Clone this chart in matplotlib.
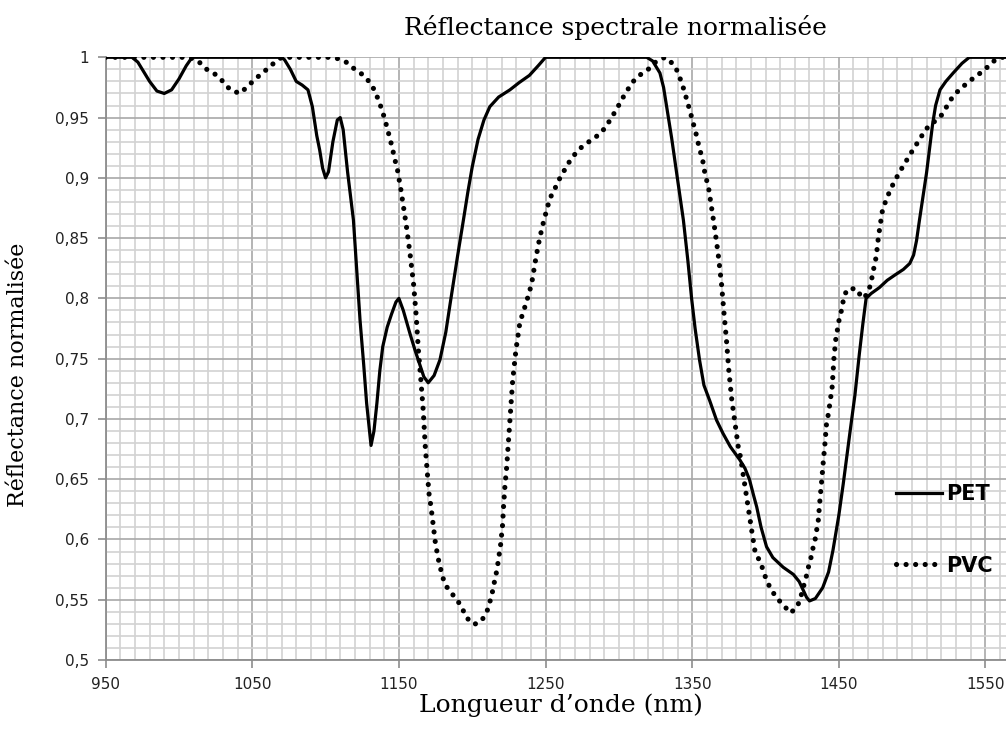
import numpy as np
import matplotlib
matplotlib.use("Agg")
import matplotlib.pyplot as plt
from matplotlib.ticker import MultipleLocator, FuncFormatter
from matplotlib.lines import Line2D

# Longueurs d'onde (nm) et réflectance
pet_x = [950, 968, 972, 975, 980, 985, 990, 995, 1000, 1005, 1009,
         1070, 1072, 1074, 1076, 1080, 1084, 1088, 1091, 1094, 1096, 1098, 1100,
         1102, 1105, 1108, 1110, 1112, 1115, 1119, 1123.5, 1126, 1128, 1131,
         1133, 1135, 1137, 1139, 1142, 1145, 1148, 1150, 1153, 1157.5, 1161,
         1164, 1167, 1170, 1174, 1178, 1182, 1185, 1190, 1194, 1197, 1200,
         1204, 1208, 1212, 1218, 1225.7, 1232, 1239, 1245, 1250,
         1319, 1323, 1328, 1330.5, 1332.6, 1336, 1339.4, 1344, 1347, 1349.6,
         1352, 1355, 1358, 1362, 1366.6, 1371, 1376, 1382.5, 1386, 1389, 1392,
         1394, 1397, 1400.7, 1405, 1412, 1419, 1423, 1425.7, 1428, 1430, 1434,
         1439, 1443, 1446, 1450, 1453, 1457.5, 1461, 1464, 1466.5, 1468.6,
         1472, 1477.7, 1483, 1489, 1494, 1498.4, 1501, 1503, 1505, 1509.8,
         1514, 1516, 1519, 1523, 1528, 1534, 1539, 1564]
pet_y = [1.0, 1.0, 0.996, 0.99, 0.98, 0.972, 0.97, 0.973, 0.982, 0.993, 1.0,
         1.0, 0.998, 0.994, 0.99, 0.98, 0.977, 0.973, 0.959, 0.935, 0.923, 0.908, 0.90,
         0.905, 0.93, 0.948, 0.95, 0.94, 0.905, 0.865, 0.782, 0.745, 0.713, 0.678,
         0.69, 0.713, 0.74, 0.76, 0.776, 0.787, 0.797, 0.80, 0.79, 0.771, 0.757,
         0.746, 0.735, 0.73, 0.736, 0.749, 0.772, 0.796, 0.835, 0.865, 0.888, 0.909,
         0.932, 0.948, 0.959, 0.967, 0.973, 0.979, 0.985, 0.993, 1.0,
         1.0, 0.997, 0.987, 0.975, 0.959, 0.933, 0.904, 0.865, 0.832, 0.80,
         0.775, 0.749, 0.728, 0.715, 0.699, 0.688, 0.677, 0.666, 0.659, 0.65, 0.636,
         0.627, 0.61, 0.594, 0.585, 0.577, 0.571, 0.565, 0.558, 0.552, 0.549, 0.551,
         0.56, 0.573, 0.591, 0.62, 0.646, 0.688, 0.72, 0.754, 0.78, 0.80,
         0.804, 0.809, 0.815, 0.82, 0.824, 0.829, 0.836, 0.848, 0.865, 0.904,
         0.945, 0.96, 0.973, 0.98, 0.987, 0.995, 1.0, 1.0]

pvc_x = [950, 1005, 1009, 1013, 1019, 1024.6, 1030, 1035, 1041.6, 1047, 1052,
         1058, 1063.6, 1070, 1102, 1108, 1114, 1120, 1126, 1131, 1134, 1136.5,
         1138.6, 1140.5, 1142.3, 1144, 1145.7, 1147, 1148.7, 1149.8, 1151, 1152,
         1153, 1154, 1155, 1157.6, 1160, 1161.7, 1163.3, 1165, 1166.6, 1168,
         1169.6, 1170.7, 1171.8, 1173.4, 1175, 1177.5, 1181, 1184, 1189, 1192.8,
         1195.7, 1200, 1203, 1206.6, 1210, 1212, 1213.7, 1215, 1216.4, 1217.5,
         1219.4, 1220.7, 1221.4, 1222.3, 1223.5, 1225.7, 1227.6, 1229.8, 1232.5,
         1237, 1240.5, 1242.8, 1245, 1247.7, 1249.6, 1253, 1256, 1259, 1265.5,
         1269.6, 1275, 1280.8, 1286.6, 1291, 1295, 1298.5, 1302, 1305, 1309, 1314,
         1320, 1325, 1331.4, 1337.5, 1340.5, 1342.7, 1345, 1346.6, 1348.5, 1350,
         1352, 1353.5, 1355, 1357, 1358, 1359.4, 1361, 1362, 1363, 1364, 1365,
         1367.7, 1370, 1371.6, 1373.4, 1375, 1376.9, 1379.6, 1381.4, 1383, 1385,
         1387, 1388.8, 1390.9, 1393, 1396.6, 1400.7, 1404, 1408, 1412.6, 1417,
         1421.6, 1424, 1425.7, 1427.6, 1429, 1430.7, 1432, 1433.7, 1434.8, 1436,
         1437, 1438.2, 1439.3, 1440.5, 1441.6, 1443, 1445.5, 1446.7, 1448, 1449.2,
         1450.3, 1452, 1453, 1455.3, 1458, 1462, 1466, 1469, 1471.6, 1474, 1475.4,
         1476.3, 1477, 1478, 1480, 1482.5, 1485, 1488, 1491, 1495, 1498.4, 1502,
         1505.7, 1509, 1515.5, 1520, 1523.5, 1527, 1532, 1537, 1543, 1549, 1554.6,
         1560, 1564]
pvc_y = [1.0, 1.0, 0.999, 0.997, 0.99, 0.986, 0.98, 0.973, 0.97, 0.976, 0.982,
         0.988, 0.994, 1.0, 1.0, 0.999, 0.996, 0.99, 0.985, 0.978, 0.971, 0.963,
         0.956, 0.948, 0.94, 0.932, 0.924, 0.916, 0.909, 0.901, 0.893, 0.885,
         0.877, 0.869, 0.861, 0.837, 0.812, 0.787, 0.757, 0.732, 0.707, 0.677,
         0.652, 0.636, 0.628, 0.612, 0.596, 0.58, 0.564, 0.558, 0.551, 0.544,
         0.536, 0.53, 0.53, 0.533, 0.54, 0.548, 0.556, 0.564, 0.572, 0.58,
         0.596, 0.612, 0.628, 0.644, 0.66, 0.699, 0.732, 0.757, 0.78,
         0.797, 0.812, 0.829, 0.844, 0.859, 0.868, 0.883, 0.89, 0.898, 0.912,
         0.919, 0.926, 0.931, 0.936, 0.942, 0.95, 0.957, 0.965, 0.971, 0.979, 0.985,
         0.99, 0.996, 1.0, 0.994, 0.987, 0.979, 0.971, 0.963, 0.956, 0.948,
         0.94, 0.932, 0.924, 0.916, 0.908, 0.90, 0.893, 0.885, 0.877, 0.869, 0.861,
         0.837, 0.812, 0.789, 0.765, 0.74, 0.717, 0.693, 0.677, 0.668, 0.652,
         0.636, 0.621, 0.605, 0.589, 0.581, 0.566, 0.558, 0.551, 0.545, 0.539,
         0.544, 0.552, 0.56, 0.568, 0.576, 0.583, 0.591, 0.599, 0.607, 0.616,
         0.631, 0.647, 0.663, 0.679, 0.696, 0.705, 0.727, 0.751, 0.767, 0.775,
         0.783, 0.791, 0.798, 0.807, 0.808, 0.808, 0.80, 0.803, 0.811, 0.826, 0.834,
         0.843, 0.851, 0.859, 0.875, 0.882, 0.89, 0.897, 0.904, 0.912, 0.919, 0.926,
         0.933, 0.94, 0.947, 0.952, 0.959, 0.966, 0.973, 0.978, 0.984, 0.989, 0.996,
         1.0, 1.0]

x_ticks = [950, 1050, 1150, 1250, 1350, 1450, 1550]

fig = plt.figure(figsize=(10.06, 7.40), dpi=100)
ax = fig.add_axes([105.6 / 1006, 80 / 740, (1006 - 105.6) / 1006, 602.7 / 740])

ax.plot(pet_x, pet_y, color="black", lw=2.3, solid_joinstyle="round", zorder=3)
ax.plot(pvc_x, pvc_y, color="black", lw=3.7, linestyle=(0, (0.01, 1.85)),
        dash_capstyle="round", zorder=3)

ax.set_xlim(950, 1564)
ax.set_ylim(0.5, 1.0)
ax.set_xticks(x_ticks)
ax.xaxis.set_minor_locator(MultipleLocator(10))
ax.yaxis.set_major_locator(MultipleLocator(0.05))
ax.yaxis.set_minor_locator(MultipleLocator(0.01))
ax.yaxis.set_major_formatter(FuncFormatter(lambda v, p: f"{v:.2f}".rstrip("0").rstrip(".").replace(".", ",")))

ax.grid(which="minor", color="#d2d2d2", lw=1.2, zorder=0)
ax.grid(which="major", color="#a8a8a8", lw=1.2, zorder=1)
ax.set_axisbelow(True)
for s in ["top", "right"]:
    ax.spines[s].set_visible(False)
for s in ["left", "bottom"]:
    ax.spines[s].set_color("#8c8c8c")
    ax.spines[s].set_linewidth(1.3)
ax.tick_params(which="major", length=6, width=1.2, color="#8c8c8c",
               labelsize=11, labelcolor="#222222", pad=6)
ax.tick_params(which="minor", length=0)

serif = ["DejaVu Serif"]
fig.text(615 / 1006, 1 - 27 / 740, "Réflectance spectrale normalisée",
         ha="center", va="center", fontsize=18, family=serif)
fig.text(561 / 1006, 1 - 705 / 740, "Longueur d’onde (nm)",
         ha="center", va="center", fontsize=18, family=serif)
fig.text(18 / 1006, 1 - 375 / 740, "Réflectance normalisée", rotation=90,
         ha="center", va="center", fontsize=16, family=serif)

handles = [Line2D([], [], color="black", lw=2.3),
           Line2D([], [], color="black", lw=3.7, linestyle=(0, (0.01, 1.85)),
                  dash_capstyle="round")]
ax.legend(handles, ["PET", "PVC"], loc="center left",
          bbox_to_anchor=(877 / 1006, 1 - 530 / 740), bbox_transform=fig.transFigure,
          frameon=False, handlelength=2.2, handletextpad=0.2, labelspacing=2.45,
          prop={"weight": "bold", "size": 15})

fig.savefig("out.png", dpi=100)
